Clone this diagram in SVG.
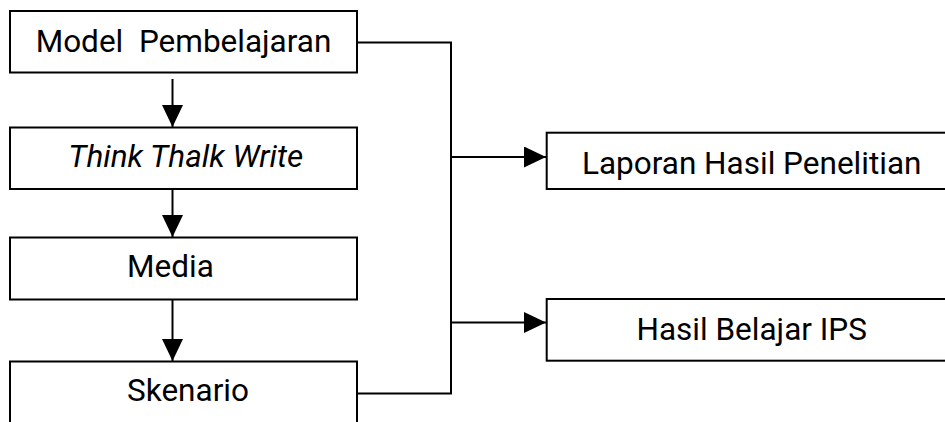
<svg xmlns="http://www.w3.org/2000/svg" width="945" height="422" viewBox="0 0 945 422">
<style>
.box{fill:#fff;stroke:#000;stroke-width:2}
.t{font-family:Roboto,"Liberation Sans",sans-serif;font-size:31.5px;fill:#000;text-anchor:middle}
.c{fill:none;stroke:#000;stroke-width:2}
</style>
<defs>
<marker id="ah" markerWidth="22" markerHeight="21" viewBox="0 0 22 21" refX="22" refY="10.5" orient="auto" markerUnits="userSpaceOnUse">
<path d="M0,0 L22,10.5 L0,21 Z" fill="#000"/>
</marker>
</defs>
<rect width="945" height="422" fill="#fff"/>
<g id="connectors">
<line class="c" x1="172.5" y1="79" x2="172.5" y2="127" marker-end="url(#ah)"/>
<line class="c" x1="172.5" y1="189" x2="172.5" y2="237" marker-end="url(#ah)"/>
<line class="c" x1="172.5" y1="299.5" x2="172.5" y2="361" marker-end="url(#ah)"/>
<polyline class="c" points="357,42.5 451,42.5 451,393.5 357,393.5"/>
<line class="c" x1="451" y1="157" x2="546" y2="157" marker-end="url(#ah)"/>
<line class="c" x1="451" y1="322.5" x2="546" y2="322.5" marker-end="url(#ah)"/>
</g>
<g id="model">
<rect class="box" x="10" y="11" width="347" height="61.5"/>
<text class="t" x="183.5" y="52.3">Model&#160; Pembelajaran</text>
</g>
<g id="ttw">
<rect class="box" x="10" y="127.5" width="347" height="61.5"/>
<text class="t" x="185.7" y="166.7" font-style="italic">Think Thalk Write</text>
</g>
<g id="media">
<rect class="box" x="10" y="237.5" width="347" height="62"/>
<text class="t" x="170.5" y="276.7">Media</text>
</g>
<g id="skenario">
<rect class="box" x="10" y="361.5" width="347" height="80"/>
<text class="t" x="188" y="400.7">Skenario</text>
</g>
<g id="laporan">
<rect class="box" x="546.7" y="132.7" width="420" height="56.3"/>
<text class="t" x="751.7" y="174">Laporan Hasil Penelitian</text>
</g>
<g id="hasil">
<rect class="box" x="546.7" y="299" width="420" height="61.7"/>
<text class="t" x="751.7" y="340">Hasil Belajar IPS</text>
</g>
</svg>
